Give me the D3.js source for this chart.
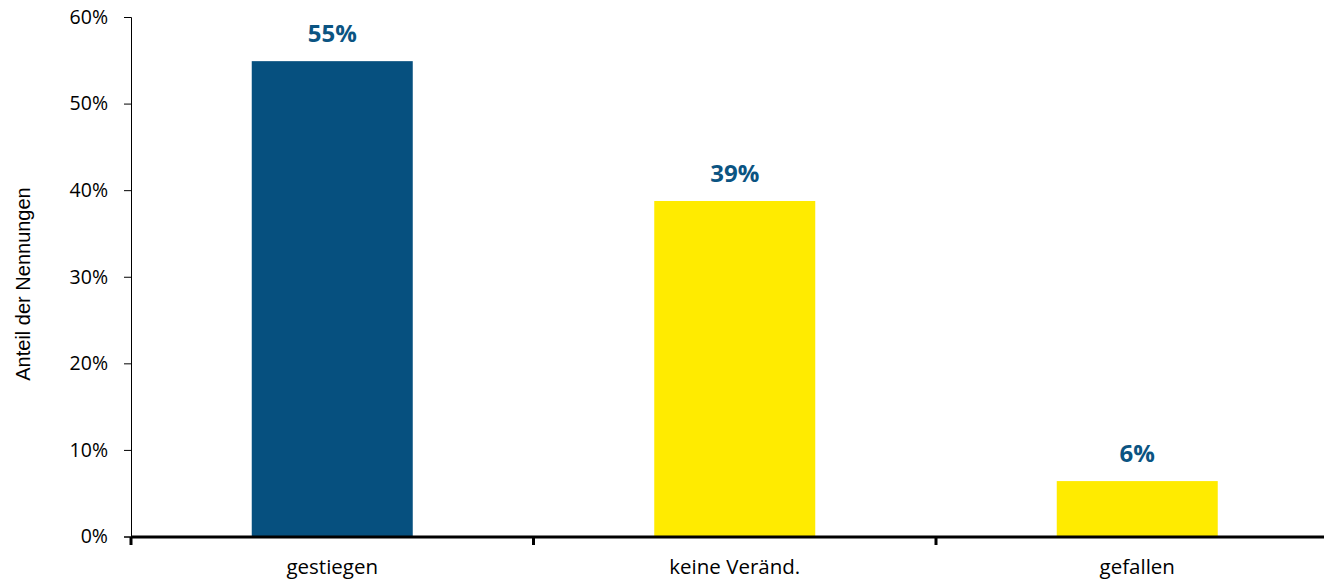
<!DOCTYPE html>
<html>
<head>
<meta charset="utf-8">
<script src="https://cdn.jsdelivr.net/npm/d3@7"></script>
<style>
  html, body { margin: 0; padding: 0; background: #fff; }
  svg { display: block; }
</style>
</head>
<body>
<svg id="chart" width="1324" height="582"></svg>
<script>
// Categories and shares of responses (percent)
const categories = ["gestiegen", "keine Veränd.", "gefallen"];
const shares = [54.9, 38.75, 6.4];
const barColors = ["#06507F", "#FFEB00", "#FFEB00"];
const yTicks = [0, 10, 20, 30, 40, 50, 60];
const yTitle = "Anteil der Nennungen";

(function () {
  const svg = d3.select("#chart");
  const plotLeft = 131, plotRight = 1338.5, plotTop = 17, plotBottom = 536.5;

  const x = d3.scaleBand().domain(categories).range([plotLeft, plotRight])
    .paddingInner(0.6).paddingOuter(0.3);
  const y = d3.scaleLinear().domain([0, 60]).range([plotBottom, plotTop]);

  const tickFont = "'Open Sans', Lato, sans-serif";

  // Y axis
  const yAxis = svg.append("g").attr("transform", `translate(${plotLeft},0)`)
    .call(d3.axisLeft(y).tickValues(yTicks).tickFormat(d => d + "%").tickSize(7).tickSizeOuter(7));
  yAxis.select(".domain").attr("stroke", "#000").attr("stroke-width", 1);
  yAxis.selectAll(".tick line").attr("stroke", "#000");
  yAxis.selectAll(".tick text").attr("font-family", tickFont).attr("font-size", 19.5)
    .attr("fill", "#000").attr("x", -23);

  // Bars
  svg.append("g").selectAll("rect").data(shares).join("rect")
    .attr("x", (d, i) => x(categories[i]))
    .attr("y", d => y(d))
    .attr("width", x.bandwidth())
    .attr("height", d => y(0) - y(d))
    .attr("fill", (d, i) => barColors[i]);

  // Value labels
  svg.append("g").selectAll("text").data(shares).join("text")
    .attr("x", (d, i) => x(categories[i]) + x.bandwidth() / 2)
    .attr("y", d => y(d) - 19)
    .attr("text-anchor", "middle")
    .attr("font-family", tickFont).attr("font-weight", "bold").attr("font-size", 24)
    .attr("fill", "#0B5482")
    .text(d => Math.round(d) + "%");

  // X axis (thick baseline with category ticks)
  const xAxis = svg.append("g").attr("transform", `translate(0,${plotBottom + 0.5})`);
  xAxis.append("line").attr("x1", plotLeft).attr("x2", plotRight)
    .attr("stroke", "#000").attr("stroke-width", 3);
  const step = x.step();
  const boundaries = d3.range(categories.length + 1).map(i => plotLeft + i * step);
  xAxis.selectAll("line.tk").data(boundaries).join("line").attr("class", "tk")
    .attr("x1", d => d).attr("x2", d => d).attr("y1", 0).attr("y2", 8)
    .attr("stroke", "#000").attr("stroke-width", 3);
  xAxis.selectAll("text").data(categories).join("text")
    .attr("x", d => x(d) + x.bandwidth() / 2)
    .attr("y", 37)
    .attr("text-anchor", "middle")
    .attr("font-family", tickFont).attr("font-size", 20.5).attr("fill", "#000")
    .text(d => d);

  // Y axis title
  svg.append("text")
    .attr("transform", "translate(30,284) rotate(-90)")
    .attr("text-anchor", "middle")
    .attr("font-family", "'Liberation Sans', Arial, sans-serif").attr("font-size", 20)
    .attr("fill", "#000")
    .text(yTitle);
})();
</script>
</body>
</html>
